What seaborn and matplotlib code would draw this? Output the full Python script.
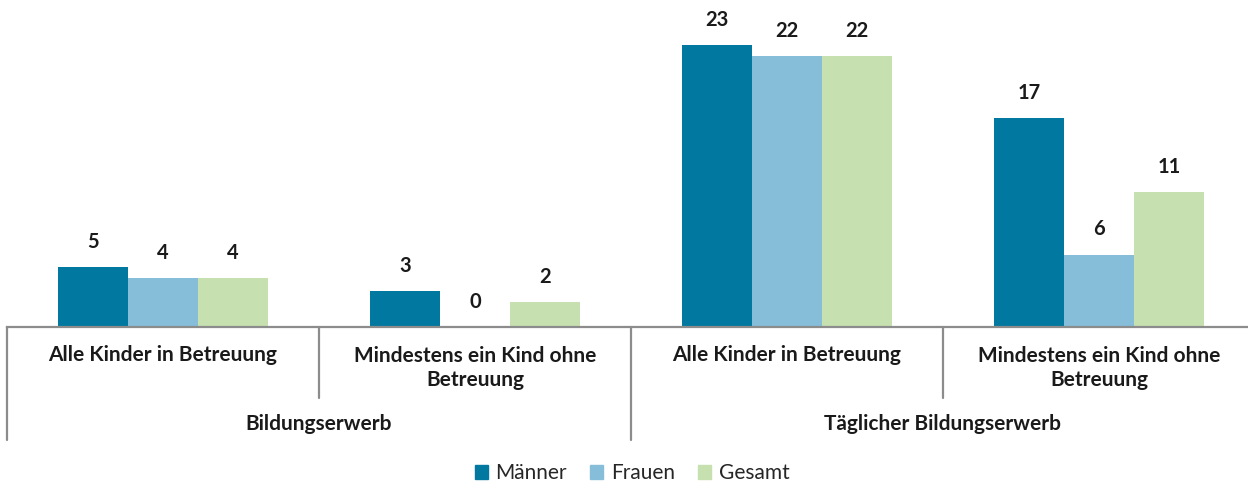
import pandas as pd
import numpy as np
import matplotlib
matplotlib.use("Agg")
import matplotlib.pyplot as plt
import matplotlib.transforms as mtransforms
import seaborn as sns

# ================= data =================
groups = ['Bildungserwerb', 'Täglicher Bildungserwerb']
categories = ['Alle Kinder in Betreuung', 'Mindestens ein Kind ohne\nBetreuung',
              'Alle Kinder in Betreuung ', 'Mindestens ein Kind ohne\nBetreuung ']
series = ['Männer', 'Frauen', 'Gesamt']
maenner = [4.9, 2.9, 23.0, 17.0]
frauen = [4.0, 0.0, 22.1, 5.9]
gesamt = [4.0, 2.0, 22.1, 11.0]
labels = {'Männer': ['5', '3', '23', '17'],
          'Frauen': ['4', '0', '22', '6'],
          'Gesamt': ['4', '2', '22', '11']}

COLORS = {'Männer': '#00789F', 'Frauen': '#86BDD9', 'Gesamt': '#C6E1AF'}

df = pd.DataFrame({
    'Kategorie': categories * 3,
    'Gruppe': [s for s in series for _ in categories],
    'Wert': maenner + frauen + gesamt,
})

sns.set_style('white')
plt.rcParams['font.family'] = ['Lato', 'DejaVu Sans']

W, H = 1248, 484
fig = plt.figure(figsize=(W / 100, H / 100), dpi=100)
y_base, y_top = 327, 20.3
ax = fig.add_axes([7 / W, 1 - y_base / H, 1.0, (y_base - y_top) / H])

sns.barplot(data=df, x='Kategorie', y='Wert', hue='Gruppe', order=categories,
            hue_order=series, palette=COLORS, width=0.675, saturation=1,
            linewidth=0, ax=ax, legend=True)

for cont, s in zip(ax.containers, series):
    ax.bar_label(cont, labels=labels[s], padding=11, fontsize=14.5,
                 fontweight='bold', color='#1a1a1a')

ax.set_xlim(-0.5, 3.5)
ax.set_ylim(0, 25)
ax.set_xlabel('')
ax.set_ylabel('')
ax.set_xticks([])
ax.set_yticks([])
for sp in ['top', 'right', 'left']:
    ax.spines[sp].set_visible(False)
ax.spines['bottom'].set_color('#8c8c8c')
ax.spines['bottom'].set_linewidth(1.6)

# separators and category labels below the axis
ah = y_base - y_top
def ya(ypix):
    return (y_base - ypix) / ah

trans = mtransforms.blended_transform_factory(ax.transData, ax.transAxes)
for x, long in zip([-0.5, 0.5, 1.5, 2.5, 3.5], [True, False, True, False, True]):
    ax.plot([x, x], [0, ya(440 if long else 398)], color='#8c8c8c', lw=1.6,
            transform=trans, clip_on=False)

for i, cat in enumerate(categories):
    yy = 355 if '\n' not in cat else 368
    ax.text(i, ya(yy), cat.strip(), transform=trans, ha='center', va='center',
            fontsize=15, fontweight='bold', color='#1a1a1a', linespacing=1.25)

for j, g in enumerate(groups):
    ax.text(0.5 + 2 * j, ya(424), g, transform=trans, ha='center', va='center',
            fontsize=15, fontweight='bold', color='#1a1a1a')

ax.legend_.remove()
handles = [plt.Rectangle((0, 0), 1, 1, color=COLORS[s]) for s in series]
fig.legend(handles, series, loc='center', bbox_to_anchor=(632 / W, 1 - 473 / H),
           ncol=3, frameon=False, handlelength=0.65, handleheight=0.65,
           handletextpad=0.35, columnspacing=1.1, fontsize=15)

fig.savefig('out.png', dpi=100)
